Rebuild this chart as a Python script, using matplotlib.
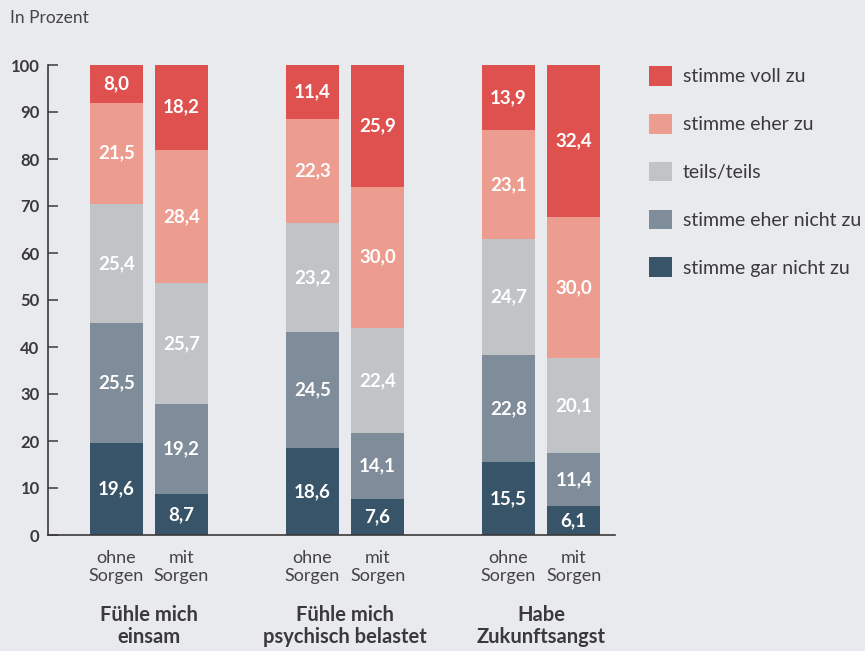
import numpy as np
import matplotlib
matplotlib.use("Agg")
import matplotlib.pyplot as plt

plt.rcParams["font.family"] = ["Lato", "DejaVu Sans"]

groups = ["Fühle mich\neinsam", "Fühle mich\npsychisch belastet", "Habe\nZukunftsangst"]
subcats = ["ohne\nSorgen", "mit\nSorgen"]
levels = ["stimme gar nicht zu", "stimme eher nicht zu", "teils/teils",
          "stimme eher zu", "stimme voll zu"]
colors = ["#385468", "#7f8c99", "#c0c4c7", "#ec9d90", "#df514e"]

# order of bars: einsam ohne, einsam mit, psychisch ohne, psychisch mit, zukunft ohne, zukunft mit
gar_nicht = [19.6, 8.7, 18.6, 7.6, 15.5, 6.1]
eher_nicht = [25.5, 19.2, 24.5, 14.1, 22.8, 11.4]
teils = [25.4, 25.7, 23.2, 22.4, 24.7, 20.1]
eher_zu = [21.5, 28.4, 22.3, 30.0, 23.1, 30.0]
voll_zu = [8.0, 18.2, 11.4, 25.9, 13.9, 32.4]
series = [gar_nicht, eher_nicht, teils, eher_zu, voll_zu]

BG = "#e9eaed"
TXT = "#3a3a3a"

fig = plt.figure(figsize=(8.65, 6.51), dpi=100, facecolor=BG)
ax = fig.add_axes([48 / 865, 1 - 535 / 651, 567 / 865, 470 / 651], facecolor=BG)

gx = np.arange(3) * 3.7
xs = np.ravel(np.column_stack([gx, gx + 1.23]))

bottom = np.zeros(6)
handles = []
for lab, vals, col in zip(levels, series, colors):
    vals = np.array(vals)
    b = ax.bar(xs, vals, width=1.0, bottom=bottom, color=col, label=lab, linewidth=0)
    handles.append(b)
    for x, v, bt in zip(xs, vals, bottom):
        ax.text(x, bt + v / 2, f"{v:.1f}".replace(".", ","), ha="center", va="center",
                color="white", fontsize=13.5, fontweight="bold")
    bottom += vals

ax.set_xlim(-1.29, 3.7 * 2 + 1.23 + 0.78)
ax.set_ylim(0, 100)
ax.set_yticks(range(0, 101, 10))
ax.tick_params(axis="y", direction="in", length=7, width=1.1, color=TXT,
               labelsize=12, labelcolor=TXT, pad=6)
for t in ax.get_yticklabels():
    t.set_fontweight("bold")
ax.set_xticks(xs)
ax.set_xticklabels(subcats * 3, fontsize=13, color="#444444", linespacing=1.15)
ax.tick_params(axis="x", length=0, pad=11)
for s in ["top", "right"]:
    ax.spines[s].set_visible(False)
for s in ["left", "bottom"]:
    ax.spines[s].set_color(TXT)
    ax.spines[s].set_linewidth(1.2)

for g, name in zip(gx, groups):
    ax.text(g + 0.615, -14.8, name, ha="center", va="top", fontsize=14.5, fontweight="bold",
            color=TXT, linespacing=1.15, clip_on=False)

fig.text(10 / 865, 1 - 18 / 651, "In Prozent", ha="left", va="center", fontsize=12.5, color="#444444")

fig.legend(handles[::-1], levels[::-1], loc="upper left",
           bbox_to_anchor=(649 / 865, 1 - 66 / 651), frameon=False, fontsize=14,
           handlelength=1.18, handleheight=1.18, labelspacing=1.45, handletextpad=0.55,
           borderpad=0, borderaxespad=0, labelcolor=TXT)

fig.savefig("out.png", dpi=100, facecolor=BG)
